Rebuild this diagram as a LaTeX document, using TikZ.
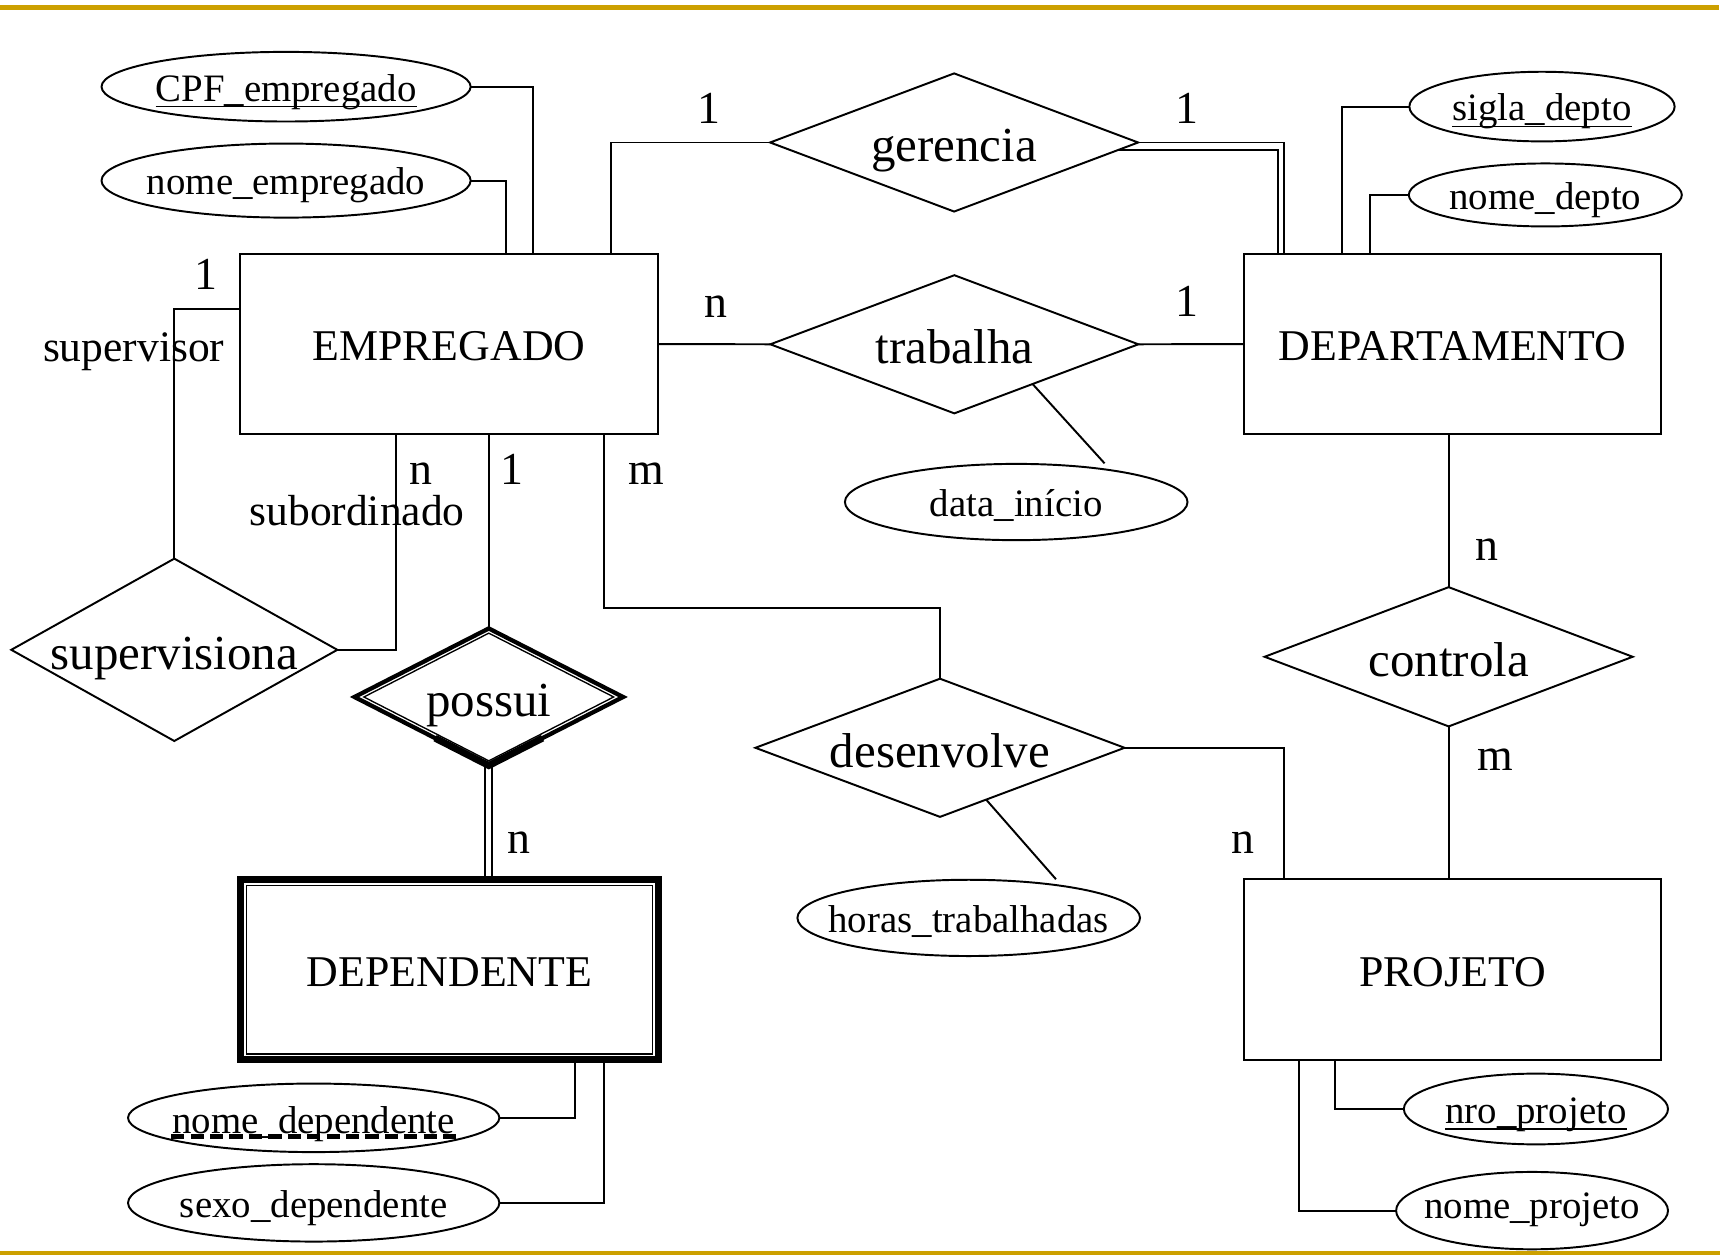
\documentclass[tikz,border=0pt]{standalone}
\usepackage{fontspec}
\setmainfont{Liberation Serif}
\usetikzlibrary{shapes.geometric,calc}
\definecolor{gold}{RGB}{204,160,0}
\begin{document}
\begin{tikzpicture}[x=0.01cm,y=-0.01cm,
  every node/.style={outer sep=0pt, inner sep=0pt},
  ent/.style={draw, line width=0.5pt, rectangle, minimum width=3.78cm, minimum height=1.63cm, text height=0.30cm, text depth=0pt, font=\fontsize{11.3}{13}\selectfont},
  rel/.style={draw, line width=0.5pt, diamond, text height=0.35cm, text depth=0pt, font=\fontsize{12.6}{15}\selectfont},
  attr/.style={draw, line width=0.5pt, ellipse, text height=0.26cm, text depth=0pt, font=\fontsize{10}{12}\selectfont},
  card/.style={anchor=base, font=\fontsize{11.8}{14}\selectfont},
  role/.style={anchor=base, font=\fontsize{11.2}{13}\selectfont},
  conn/.style={line width=0.5pt},
]
\useasboundingbox (0,0) rectangle (1568,1137);

% gold rules
\draw[gold, line width=1.2pt] (0,6.6) -- (1556,6.6);
\draw[gold, line width=1pt] (0,1134.5) -- (1557,1134.5);

% entities
\node[ent] (emp) at (406.4,311.5) {EMPREGADO};
\node[ent] (dep) at (1315,311.5) {DEPARTAMENTO};
\node[ent, line width=1.8pt] (depe) at (407,878) {DEPENDENTE};
\draw[line width=0.35pt] ($(depe.north west)+(5.5,5.5)$) rectangle ($(depe.south east)+(-5.5,-5.5)$);
\node[ent] (proj) at (1315,877.7) {PROJETO};

% relationships
\node[rel, minimum width=3.33cm, minimum height=1.25cm] (ger) at (863.8,129) {\makebox[0pt]{gerencia}};
\node[rel, minimum width=3.33cm, minimum height=1.25cm] (trab) at (864,311.7) {\makebox[0pt]{trabalha}};
\node[rel, minimum width=2.95cm, minimum height=1.65cm] (sup) at (157.8,588.3) {\makebox[0pt]{supervisiona}};
\node[rel, line width=1.1pt, minimum width=2.43cm, minimum height=1.24cm] (pos) at (442.5,631) {\makebox[0pt]{possui}};
\node[draw, diamond, line width=0.35pt, minimum width=2.26cm, minimum height=1.155cm] (posin) at (pos.center) {};
\draw[line width=1.8pt, line join=miter] ($(pos.west)!0.6!(pos.south)$) -- (pos.south) -- ($(pos.east)!0.6!(pos.south)$);
\node[rel, minimum width=3.33cm, minimum height=1.26cm] (ctl) at (1311.5,594.6) {\makebox[0pt]{controla}};
\node[rel, minimum width=3.34cm, minimum height=1.25cm] (des) at (851,677) {\makebox[0pt]{desenvolve}};

% attributes
\node[attr, minimum width=3.34cm, minimum height=0.63cm] (cpf) at (259,78.5) {\makebox[0pt]{\underline{\smash{CPF\_empregado}}}};
\node[attr, minimum width=3.34cm, minimum height=0.67cm] (nomee) at (259,163.5) {\makebox[0pt]{nome\_empregado}};
\node[attr, minimum width=2.40cm, minimum height=0.63cm] (sig) at (1396,96.5) {\makebox[0pt]{\underline{\smash{sigla\_depto}}}};
\node[attr, minimum width=2.47cm, minimum height=0.57cm] (nomdep) at (1399,176.5) {\makebox[0pt]{nome\_depto}};
\node[attr, minimum width=3.10cm, minimum height=0.69cm] (dat) at (920,454.5) {\makebox[0pt]{data\_início}};
\node[attr, minimum width=3.10cm, minimum height=0.69cm] (hor) at (877,831) {\makebox[0pt]{horas\_trabalhadas}};
\node[attr, minimum width=2.39cm, minimum height=0.64cm] (nro) at (1390.5,1004) {\makebox[0pt]{\underline{\smash{nro\_projeto}}}};
\node[attr, minimum width=2.46cm, minimum height=0.70cm, text height=0.15cm] (nomp) at (1387,1096) {\makebox[0pt]{nome\_projeto}};
\node[attr, minimum width=3.36cm, minimum height=0.62cm, text height=0.28cm] (nomd) at (284,1012) {\makebox[0pt]{nome\_dependente}};
\draw[line width=1.3pt, dash pattern=on 3.4pt off 1.6pt] ($(nomd.center)+(-129,17)$) -- ($(nomd.center)+(129,17)$);
\node[attr, minimum width=3.36cm, minimum height=0.70cm] (sexo) at (284,1089) {\makebox[0pt]{sexo\_dependente}};

% cardinalities and roles
\node[card] (c1) at (641.6,111.7) {1};
\node[card] (c2) at (1074.6,111.7) {1};
\node[card] (c3) at (647.8,287.3) {n};
\node[card] (c4) at (1074.6,286.7) {1};
\node[card] (c5) at (186.7,262.5) {1};
\node[role] (r1) at (121,327) {supervisor};
\node[card] (c6) at (381.5,439) {n};
\node[card] (c7) at (463.5,439) {1};
\node[card] (c8) at (584.8,439) {m};
\node[role] (r2) at (323.3,476) {subordinado};
\node[card] (c9) at (1346,507.6) {n};
\node[card] (c10) at (1353.8,698) {m};
\node[card] (c11) at (1125,773) {n};
\node[card] (c12) at (470,773) {n};

% connectors
\coordinate (cpfA) at ($(emp.north west)+(265,0)$);
\draw[conn] (cpf.east) -| (cpfA);
\coordinate (nomeeA) at ($(emp.north west)+(240.8,0)$);
\draw[conn] (nomee.east) -| (nomeeA);
\coordinate (sigA) at ($(dep.north west)+(88.8,0)$);
\draw[conn] (sig.west) -| (sigA);
\coordinate (nomdepA) at ($(dep.north west)+(114.3,0)$);
\draw[conn] (nomdep.west) -| (nomdepA);

\coordinate (gerA) at ($(emp.north west)+(335.5,0)$);
\draw[conn] (gerA) |- (ger.west);
\coordinate (gerB) at ($(dep.north west)+(36.5,0)$);
\draw[conn] (ger.east) -| (gerB);
\coordinate (gerC) at ($(ger.east)!0.111!(ger.south)$);
\coordinate (gerD) at ($(dep.north west)+(31.5,0)$);
\draw[conn] (gerC) -| (gerD);

\draw[conn] (emp.east) -- (trab.west);
\draw[conn] (trab.east) -- (dep.west);
\coordinate (datA) at ($(trab.south)!0.425!(trab.east)$);
\coordinate (datB) at ($(dat.center)+(80,-35)$);
\draw[conn] (datA) -- (datB);

\coordinate (supA) at ($(emp.north west)+(0,50)$);
\draw[conn] (supA) -| (sup.north);
\coordinate (subA) at ($(emp.south west)+(141,0)$);
\draw[conn] (subA) |- (sup.east);

\draw[conn] (pos.north |- emp.south) -- (pos.north);
\coordinate (posL) at ($(pos.south)+(-3,0)$);
\coordinate (posR) at ($(pos.south)+(3,0)$);
\draw[conn] (posL) -- (posL |- depe.north);
\draw[conn] (posR) -- (posR |- depe.north);

\coordinate (desA) at ($(emp.south west)+(329.6,0)$);
\coordinate (desK) at ($(des.north)+(0,-64)$);
\draw[conn] (desA) |- (desK) -- (des.north);
\coordinate (projA) at ($(proj.north west)+(36.5,0)$);
\draw[conn] (des.east) -| (projA);
\coordinate (horA) at ($(des.south)!0.25!(des.east)$);
\coordinate (horB) at ($(hor.center)+(79,-35)$);
\draw[conn] (horA) -- (horB);

\draw[conn] (ctl.north |- dep.south) -- (ctl.north);
\draw[conn] (ctl.south) -- (ctl.south |- proj.north);

\coordinate (nroA) at ($(proj.south west)+(82.5,0)$);
\draw[conn] (nroA) |- (nro.west);
\coordinate (nompA) at ($(proj.south west)+(50,0)$);
\draw[conn] (nompA) |- (nomp.west);

\coordinate (ndA) at ($(depe.south west)+(302.5,3)$);
\draw[conn] (ndA) |- (nomd.east);
\coordinate (sxA) at ($(depe.south west)+(328.5,3)$);
\draw[conn] (sxA) |- (sexo.east);
\end{tikzpicture}
\end{document}
